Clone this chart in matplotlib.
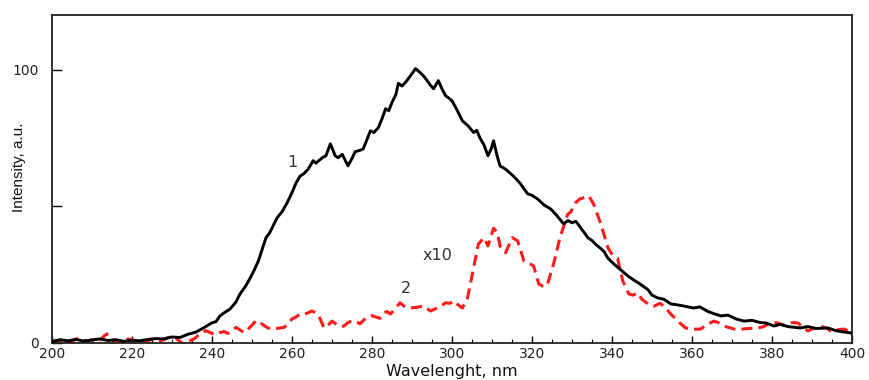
#!/usr/bin/env python3
"""Luminescence spectra: curve 1 (black) and curve 2 (red dashed, x10)."""

import matplotlib
matplotlib.use('Agg')
import matplotlib.pyplot as plt
from matplotlib.ticker import MultipleLocator

plt.rcParams['font.family'] = ['DejaVu Sans']

# curve 1 (black, solid)
wl_1 = [200, 202, 204, 206, 208, 210, 212, 214, 216, 218, 220, 222, 224, 226, 228,
        230, 232, 234, 236, 238, 240, 241, 242, 243, 244.5, 246, 247, 248.5, 249.6,
        250.5, 251.6, 252.5, 253.5, 254.5, 255.5, 256.3, 257.5, 258.8, 260, 261, 262,
        263, 264, 265.3, 266, 267.6, 268.5, 269.6, 270.8, 271.5, 272.6, 274, 275,
        275.8, 277, 277.8, 278.5, 279.6, 280.5, 281.6, 282.5, 283.4, 284.2, 285, 286,
        286.6, 287.5, 288.4, 289.5, 290.9, 292, 293, 293.8, 294.5, 295.4, 296.6, 297.5,
        298.4, 299.3, 300, 301, 302.6, 304, 305.4, 306.2, 307, 308, 309, 309.8, 310.4,
        311.2, 312, 313.5, 315.4, 317, 318.9, 320, 321.4, 323, 324.7, 326, 327.9, 329,
        330, 331, 332, 333, 334, 335, 336, 337, 338, 339, 340.4, 342, 344, 345.5, 347,
        349, 350, 351.4, 353, 354.7, 357, 360.4, 362, 364, 367.2, 369, 371, 373, 375,
        377, 378.5, 380.5, 382, 384, 387, 389, 391, 394, 396, 398, 399.7, 400]
int_1 = [0.5, 1.2, 0.8, 1.3, 0.7, 1.1, 1.5, 0.9, 1.2, 0.6, 1.0, 0.8, 1.3, 1.6, 1.5,
         2.2, 2.0, 3.2, 4.0, 5.6, 7.4, 7.8, 9.9, 11.0, 12.4, 15.0, 17.9, 21.0, 23.9,
         26.5, 30.0, 34.0, 38.5, 40.5, 43.5, 45.8, 48.0, 51.3, 55.0, 58.5, 61.0,
         62.0, 63.5, 66.7, 65.8, 67.8, 68.5, 72.9, 68.5, 67.8, 69.0, 64.8, 67.5,
         70.0, 70.5, 71.0, 73.5, 77.6, 77.0, 78.8, 82.0, 85.7, 85.0, 88.0, 91.0,
         95.0, 94.0, 95.4, 97.5, 100.4, 99.0, 97.5, 96.0, 94.5, 93.0, 96.0, 93.0,
         90.5, 89.5, 88.6, 86.0, 81.3, 79.5, 77.0, 77.8, 75.0, 72.5, 68.5, 71.0, 74.0,
         69.0, 64.8, 63.5, 61.0, 58.5, 54.6, 54.0, 52.7, 50.5, 49.0, 47.0, 43.6, 44.8,
         44.0, 44.5, 42.5, 40.5, 38.5, 37.5, 36.0, 34.8, 33.5, 31.0, 29.0, 27.0, 24.5,
         23.0, 21.6, 19.5, 17.5, 16.5, 16.0, 14.3, 13.8, 12.8, 13.2, 11.5, 9.9, 10.2,
         8.8, 8.0, 8.3, 7.5, 7.3, 6.2, 6.8, 6.0, 5.5, 6.0, 5.3, 5.5, 4.5, 4.0, 3.7, 3.3]

# curve 2 (red, dashed, shown x10)
wl_2 = [200, 201, 202, 203, 204, 205, 206, 207, 208, 209, 210, 211, 212, 213, 213.7,
        214.5, 215.5, 216.5, 218, 219, 220, 221, 222, 223, 224, 225, 226, 227, 228,
        229, 230, 231, 232, 233, 234, 235.5, 237, 238.5, 240, 241, 242, 243, 244, 245,
        246, 247, 248, 249, 250, 251, 252, 253, 254, 255.5, 257, 258, 259, 260, 261,
        262, 263, 264, 265, 266, 267, 268, 269, 270, 271, 272, 273, 274, 275, 276,
        277, 278, 279, 280, 281, 282, 282.9, 283.8, 284.6, 285.5, 287, 288, 289.6,
        291, 292.9, 294.6, 296.3, 297.3, 298.4, 299.5, 300.4, 301.5, 302.6, 303.9,
        305.1, 306.6, 308, 309, 310.4, 311.4, 312, 313.4, 314.3, 315.1, 316.4, 318,
        319.6, 320.4, 321.7, 323, 323.9, 325.4, 327, 328.9, 329.7, 331, 332, 334.2,
        335.4, 337.2, 339, 340.2, 341.4, 342.7, 344.2, 345.2, 346.4, 347.5, 349,
        350.5, 352, 353, 354.7, 357.2, 358.4, 360, 362.2, 364, 365.5, 366.5, 368,
        370.5, 372, 374, 376.5, 378, 379, 380.5, 381.5, 383, 384, 385, 386.5, 388,
        389, 390.5, 392, 393.5, 394.7, 396, 398, 399, 400]
int_2 = [0.3, 1.0, 0.5, 0.2, 0.0, 0.5, 1.5, 1.8, 1.0, 0.7, 1.2, 0.5, 1.0, 2.5, 3.3,
         2.8, 0.6, 0.0, 0.5, 1.5, 1.2, 0.3, 0.0, 0.3, 0.8, 1.5, 1.2, 0.8, 1.2,
         2.0, 2.2, 1.8, 0.5, -0.5, 0.5, 1.5, 3.3, 4.5, 3.5, 3.0, 3.8, 4.2, 3.5, 4.5,
         5.7, 4.8, 3.8, 5.0, 6.5, 8.2, 7.5, 6.4, 5.5, 5.1, 5.5, 5.7, 7.0, 8.8, 9.5,
         10.6, 10.5, 11.0, 11.7, 11.0, 9.0, 5.5, 6.5, 8.0, 7.0, 6.0, 6.2, 7.5, 8.0, 8.0,
         7.0, 8.5, 9.5, 10.0, 9.5, 9.0, 11.0, 11.5, 10.6, 12.0, 14.7, 13.5, 12.8,
         13.0, 13.5, 11.7, 12.8, 13.5, 14.7, 14.5, 15.4, 14.0, 12.8, 16.5,
         25.2, 36.2, 38.5, 35.5, 42.0, 40.3, 35.5, 33.0, 36.0, 38.5, 37.4, 30.0,
         28.9, 28.2, 21.6, 20.5, 21.6, 28.9, 38.5, 47.0, 48.0, 51.5, 52.7, 53.8,
         50.9, 43.6, 34.8, 32.0, 31.0, 22.7, 18.0, 17.5, 18.3, 16.0, 14.3,
         13.5, 14.5, 13.5, 10.6, 7.0, 5.5, 5.0, 5.1, 7.0, 8.0, 7.5, 6.2,
         5.1, 5.0, 5.3, 5.5, 6.0, 7.0, 7.5, 7.3, 6.5, 7.0, 7.5, 7.3, 5.5,
         4.4, 5.5, 6.2, 5.5, 4.4, 4.8, 5.1, 4.5, 3.3]

y_ticks = [0, 50, 100]
y_ticklabels = ['0', '', '100']

fig = plt.figure(figsize=(8.69, 3.8), dpi=100)
ax = fig.add_axes([0.0598, 0.0974, 0.9206, 0.8631])

ax.plot(wl_1, int_1, color='black', lw=2.1, zorder=3)
ax.plot(wl_2, int_2, color='#ff1a1a', lw=2.2, dashes=(3.6, 2.0), zorder=2)

txt = dict(fontsize=11.5, color='#333333', ha='center', va='center')
ax.text(260, 66, '1', **txt)
ax.text(288.5, 20, '2', **txt)
ax.text(296.5, 32, 'x10', **txt)

ax.set_xlim(200, 400)
ax.set_ylim(0, 120)
ax.xaxis.set_major_locator(MultipleLocator(20))
ax.xaxis.set_minor_locator(MultipleLocator(5))
ax.set_yticks(y_ticks)
ax.set_yticklabels(y_ticklabels)
ax.tick_params(axis='x', which='major', direction='in', length=5, width=1.0,
               labelsize=10, pad=3, labelcolor='#222222')
ax.tick_params(axis='x', which='minor', direction='in', length=3, width=0.8)
ax.tick_params(axis='y', direction='in', length=7, width=1.0, labelsize=10,
               pad=9.5, labelcolor='#222222')
for s in ax.spines.values():
    s.set_linewidth(1.3)
    s.set_color('#222222')

ax.set_xlabel('Wavelenght, nm', fontsize=11.5, color='#111111', va='bottom')
ax.xaxis.set_label_coords(0.5, -0.1113)
ax.set_ylabel('Intensity, a.u.', fontsize=11, family='Liberation Sans',
              color='#111111')
ax.yaxis.set_label_coords(-0.0325, 0.537)

fig.savefig('out.png', dpi=100)
